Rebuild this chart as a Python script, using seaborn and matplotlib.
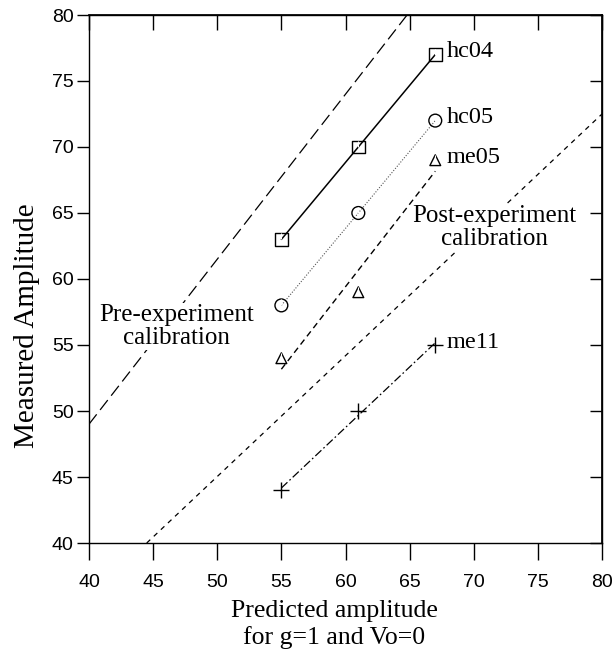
import matplotlib
matplotlib.use("Agg")
import matplotlib.pyplot as plt
import seaborn as sns
import numpy as np
import pandas as pd
from matplotlib.path import Path

# ---- data ----
predicted = [55, 61, 67]
hc04 = [63, 70, 77]
hc05 = [58, 65, 72]
me05 = [54, 59, 69]
me11 = [44, 50, 55]
series_names = ["hc04", "hc05", "me05", "me11"]

pre_x = [40, 64.8]
pre_y = [49, 80]
post_x = [44.5, 80]
post_y = [40, 72.5]

xticks = [40, 45, 50, 55, 60, 65, 70, 75, 80]
yticks = [40, 45, 50, 55, 60, 65, 70, 75, 80]

sns.set_theme(style="ticks")
plt.rcParams["font.family"] = ["Liberation Sans", "DejaVu Sans"]
plt.rcParams["lines.scale_dashes"] = False
for k in ["text.color", "axes.labelcolor", "xtick.color", "ytick.color", "axes.edgecolor"]:
    plt.rcParams[k] = "black"
serif = ["Liberation Serif", "DejaVu Serif"]

fig = plt.figure(figsize=(6.13, 6.53), dpi=100)
ax = fig.add_axes([89 / 613, 1 - 543 / 653, (602 - 89) / 613, (543 - 15) / 653])

# calibration lines
sns.lineplot(x=pre_x, y=pre_y, ax=ax, color="black", lw=0.9,
             linestyle=(0, (9, 4)), zorder=2)
sns.lineplot(x=post_x, y=post_y, ax=ax, color="black", lw=0.9,
             linestyle=(0, (3.5, 3.5)), zorder=2)

df = pd.DataFrame({"x": predicted, "hc04": hc04, "hc05": hc05,
                   "me05": me05, "me11": me11})

styles = {
    "hc04": dict(ls="-", lw=1.1, color="black", marker="s", s=85),
    "hc05": dict(ls=(0, (0.8, 1.2)), lw=0.8, color="#555555", marker="o", s=85),
    "me05": dict(ls=(0, (4.5, 3)), lw=1.0, color="black", marker="^", s=60),
    "me11": dict(ls=(0, (6, 2, 1.2, 2)), lw=0.9, color="black", marker="+", s=130),
}

tickmark = Path([[0, 0], [0, 1]], [Path.MOVETO, Path.LINETO])

for name in series_names:
    st = styles[name]
    sns.regplot(data=df, x="x", y=name, ax=ax, ci=None, scatter=False,
                truncate=True,
                line_kws=dict(color=st["color"], lw=st["lw"], linestyle=st["ls"], zorder=3))
    if st["marker"] == "+":
        sns.scatterplot(data=df, x="x", y=name, ax=ax, marker="+", s=st["s"],
                        color="black", linewidth=1.0, zorder=4)
    else:
        sns.scatterplot(data=df, x="x", y=name, ax=ax, marker=st["marker"], s=st["s"],
                        facecolor="none", edgecolor="black", linewidth=1.0, zorder=4)
        sns.scatterplot(data=df, x="x", y=name, ax=ax, marker=tickmark, s=st["s"],
                        color="black", linewidth=0.8, zorder=4)
    ax.annotate(name, xy=(df["x"].iloc[-1], df[name].iloc[-1]), xytext=(8, 2),
                textcoords="offset points", ha="left", va="center",
                fontsize=17.5, family=serif, color="black")

ax.text(46.8, 56.4, "Pre-experiment\ncalibration", ha="center", va="center",
        fontsize=18, family=serif, linespacing=1.05,
        bbox=dict(facecolor="white", edgecolor="none", pad=1), zorder=5)
ax.text(71.6, 63.9, "Post-experiment\ncalibration", ha="center", va="center",
        fontsize=18, family=serif, linespacing=1.05,
        bbox=dict(facecolor="white", edgecolor="none", pad=1), zorder=5)

ax.set_xlim(40, 80)
ax.set_ylim(40, 80)
ax.set_xticks(xticks)
ax.set_yticks(yticks)
ax.set_xticklabels([str(v) for v in xticks])
ax.set_yticklabels([str(v) for v in yticks])
ax.tick_params(axis="x", direction="out", length=12, width=1, pad=10, labelsize=14, color="black")
ax.tick_params(axis="y", direction="out", length=9, width=1, pad=2, labelsize=14, color="black")

ax.set_xlabel("Predicted amplitude\nfor g=1 and Vo=0", fontsize=18.5, family=serif,
              linespacing=1.2)
ax.xaxis.set_label_coords((334 - 89) / 513, (543 - 600) / 528)
ax.xaxis.label.set_va("top")
ax.set_ylabel("Measured Amplitude", fontsize=21, family=serif)
ax.yaxis.set_label_coords((27 - 89) / 513, (543 - 326) / 528)
ax.yaxis.label.set_va("center")

for sp in ax.spines.values():
    sp.set_visible(True)
    sp.set_color("black")
    sp.set_linewidth(1.0)

top = ax.secondary_xaxis("top")
top.set_xticks(xticks)
top.tick_params(direction="in", length=11, width=1, labeltop=False, color="black")
right = ax.secondary_yaxis("right")
right.set_yticks(yticks)
right.tick_params(direction="in", length=9, width=1, labelright=False, color="black")

ax.set_facecolor("white")
fig.patch.set_facecolor("white")
fig.savefig("out.png", dpi=100, facecolor="white")
